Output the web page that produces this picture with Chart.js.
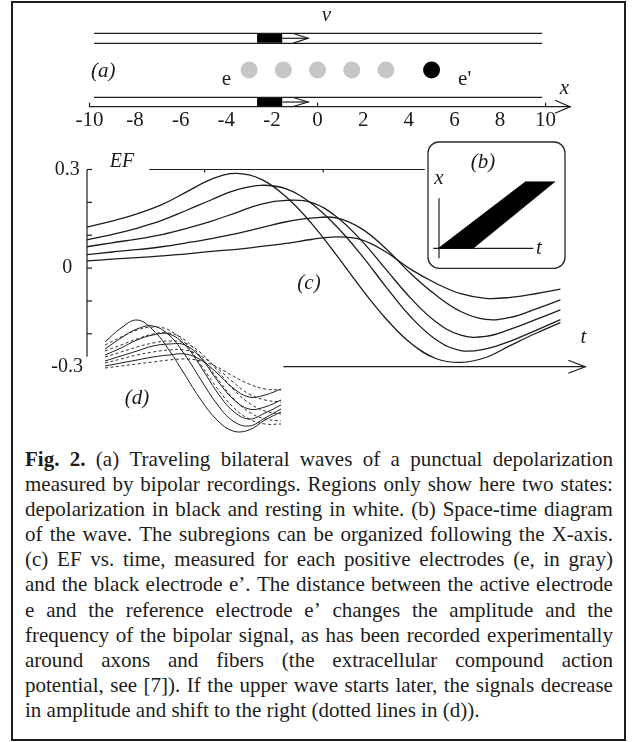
<!DOCTYPE html>
<html>
<head>
<meta charset="utf-8">
<title>Fig. 2</title>
<script src="https://cdn.jsdelivr.net/npm/chart.js@4.4.1/dist/chart.umd.min.js"></script>
<style>
  html, body { margin: 0; padding: 0; background: #fff; }
  body { width: 638px; height: 742px; position: relative; overflow: hidden;
         font-family: "Liberation Serif", "Times New Roman", serif; color: #1c1c1c; }
  #frame { position: absolute; left: 11px; top: 1px; width: 615px; height: 740px;
           border: 2px solid #1e1e1e; box-sizing: border-box; }
  canvas { position: absolute; }
  #panelA { left: 0; top: 0; }
  #panelC { left: 0; top: 140px; }
  #panelD { left: 95px; top: 305px; }
  #panelB { left: 420px; top: 135px; }
  #caption { position: absolute; left: 25px; top: 447px; width: 588px; font-size: 21px; line-height: 25.1px; }
  .row { display: flex; justify-content: space-between; white-space: pre; }
  .row.last { justify-content: flex-start; }
  .row.last > * { margin-right: 0.25em; }
</style>
</head>
<body>
<div id="frame"></div>
<canvas id="panelA" width="638" height="140"></canvas>
<canvas id="panelC" width="638" height="300"></canvas>
<canvas id="panelD" width="200" height="140"></canvas>
<canvas id="panelB" width="155" height="140"></canvas>
<div id="caption"></div>

<script>
const INK = '#1c1c1c';
const SERIF = '"Liberation Serif", "Times New Roman", serif';

// (a) fibre, depolarised block and electrodes, position axis
const posTicks = [-10, -8, -6, -4, -2, 0, 2, 4, 6, 8, 10];
const posMarks = [-10, 0, 10];
const fibreSpan = [-9.8, 9.85];
const blockSpan = [-2.65, -1.55];
const arrowSpan = [-1.55, -0.41];
const grayElectrodes = [-3, -1.5, 0, 1.5, 3];
const refElectrode = [5];

// (c) EF vs time, one curve per gray electrode
const tGrid = [0, 0.5, 1, 1.5, 2, 2.5, 3, 3.5, 4, 4.5, 5, 5.5, 6, 6.5, 7, 7.5, 8, 8.5, 9, 9.5];
const efCurve1 = [0.125, 0.143, 0.165, 0.193, 0.232, 0.271, 0.288, 0.270, 0.216, 0.137, 0.041, -0.061, -0.154, -0.229, -0.275, -0.287, -0.272, -0.235, -0.199, -0.166];
const efCurve2 = [0.086, 0.102, 0.121, 0.145, 0.176, 0.208, 0.238, 0.252, 0.241, 0.197, 0.128, 0.041, -0.057, -0.149, -0.217, -0.251, -0.246, -0.222, -0.190, -0.157];
const efCurve3 = [0.065, 0.077, 0.088, 0.102, 0.121, 0.143, 0.169, 0.195, 0.206, 0.200, 0.157, 0.085, -0.004, -0.092, -0.163, -0.204, -0.208, -0.186, -0.157, -0.127];
const efCurve4 = [0.041, 0.049, 0.056, 0.065, 0.077, 0.090, 0.105, 0.123, 0.141, 0.152, 0.153, 0.121, 0.059, -0.017, -0.082, -0.132, -0.156, -0.150, -0.125, -0.097];
const efCurve5 = [0.022, 0.027, 0.032, 0.037, 0.043, 0.051, 0.057, 0.066, 0.075, 0.087, 0.095, 0.087, 0.049, -0.004, -0.046, -0.078, -0.092, -0.089, -0.078, -0.064];
const efTicks = [-0.3, -0.2, -0.1, 0, 0.1, 0.2, 0.3];
const efLabels = ['-0.3', '', '', '0', '', '', '0.3'];
const efAxisLow = -0.27;
const frameTopSpan = [1.25, 6.78];
const frameTopTicks = [2.36, 4.74];
const tAxisSpan = [3.94, 10];

// (d) inset: solid = as in (c), dotted = upper wave starting later
const dGrid = [0, 1, 2, 3, 4, 5, 6, 7, 8, 9, 10, 11];
const dSolid1 = [0.17, 0.24, 0.28, 0.23, 0.13, 0.005, -0.12, -0.22, -0.275, -0.27, -0.22, -0.18];
const dSolid2 = [0.135, 0.19, 0.235, 0.25, 0.205, 0.105, -0.02, -0.14, -0.225, -0.25, -0.21, -0.165];
const dSolid3 = [0.105, 0.14, 0.18, 0.205, 0.21, 0.155, 0.045, -0.08, -0.175, -0.215, -0.185, -0.145];
const dSolid4 = [0.075, 0.10, 0.125, 0.15, 0.16, 0.155, 0.09, -0.02, -0.115, -0.165, -0.155, -0.12];
const dSolid5 = [0.05, 0.065, 0.08, 0.095, 0.105, 0.11, 0.08, 0.015, -0.06, -0.105, -0.095, -0.065];
const dDotted1 = [0.155, 0.195, 0.23, 0.245, 0.23, 0.165, 0.055, -0.06, -0.155, -0.215, -0.24, -0.24];
const dDotted2 = [0.125, 0.155, 0.185, 0.21, 0.215, 0.18, 0.095, -0.01, -0.11, -0.18, -0.215, -0.225];
const dDotted3 = [0.095, 0.12, 0.145, 0.165, 0.175, 0.165, 0.115, 0.03, -0.065, -0.135, -0.175, -0.19];
const dDotted4 = [0.065, 0.085, 0.105, 0.12, 0.13, 0.13, 0.10, 0.04, -0.03, -0.09, -0.12, -0.13];
const dDotted5 = [0.04, 0.05, 0.06, 0.07, 0.08, 0.085, 0.075, 0.045, 0, -0.04, -0.065, -0.07];

// (b) space-time diagram
const bandT = [-0.1, 3.43, 11.6, 8.6];
const bandX = [0, 0, 6.66, 6.66];
const bAxisT = [-0.57, 9.43];
const bAxisX = [-1, 5];

const captionLines = [
  'Fig. 2. (a) Traveling bilateral waves of a punctual depolarization',
  'measured by bipolar recordings. Regions only show here two states:',
  'depolarization in black and resting in white. (b) Space-time diagram',
  'of the wave. The subregions can be organized following the X-axis.',
  '(c) EF vs. time, measured for each positive electrodes (e, in gray)',
  'and the black electrode e\u2019. The distance between the active electrode',
  'e and the reference electrode e\u2019 changes the amplitude and the',
  'frequency of the bipolar signal, as has been recorded experimentally',
  'around axons and fibers (the extracellular compound action',
  'potential, see [7]). If the upper wave starts later, the signals decrease',
  'in amplitude and shift to the right (dotted lines in (d)).'
];

// vertical rows of panel (a), in its own 0..1 units
const ROW_A = { top: 1, inner: 0.864, dots: 0.5, lower: 0.127, axis: 0 };

const pts = (xs, ys) => xs.map((x, i) => ({x, y: ys[i]}));
const hline = (span, y) => span.map(x => ({x, y}));
const vline = (x, span) => span.map(y => ({x, y}));

function lineSet(data, extra) {
  return Object.assign({data, borderColor: INK, borderWidth: 1.2, pointRadius: 0,
                        tension: 0, fill: false, clip: false}, extra);
}

function chevron(ctx, px, py, len, half) {
  ctx.beginPath();
  ctx.moveTo(px - len, py - half);
  ctx.lineTo(px, py);
  ctx.lineTo(px - len, py + half);
  ctx.stroke();
}

// draws arrow heads, free labels and extra strokes through the chart scales
function sketch(texts, extra, before) {
  return {
    id: 'sketch',
    beforeDatasetsDraw(chart) {
      if (before) { chart.ctx.save(); before(chart, chart.ctx); chart.ctx.restore(); }
    },
    afterDatasetsDraw(chart) {
      const ctx = chart.ctx;
      const sx = chart.scales.x, sy = chart.scales.y;
      ctx.save();
      ctx.strokeStyle = INK;
      ctx.fillStyle = INK;
      ctx.lineWidth = 1.2;
      chart.data.datasets.forEach((ds, i) => {
        if (!ds.arrowHead) return;
        const meta = chart.getDatasetMeta(i);
        const tip = meta.data[meta.data.length - 1];
        chevron(ctx, tip.x, tip.y, ds.arrowHead[0], ds.arrowHead[1]);
      });
      if (extra) extra(chart, ctx);
      ctx.textAlign = 'center';
      ctx.textBaseline = 'middle';
      texts.forEach(t => {
        ctx.font = (t.italic ? 'italic ' : '') + (t.size || 21) + 'px ' + SERIF;
        ctx.fillText(t.text, sx.getPixelForValue(t.at[0]), sy.getPixelForValue(t.at[1]));
      });
      ctx.restore();
    }
  };
}

function baseOptions(padding, scales) {
  return {
    responsive: false,
    animation: false,
    devicePixelRatio: 1,
    events: [],
    layout: { padding },
    plugins: { legend: { display: false }, tooltip: { enabled: false } },
    scales
  };
}

// ---------- panel (a) ----------
const blockMidTop = (ROW_A.top + ROW_A.inner) / 2;
const blockMidLow = (ROW_A.lower + ROW_A.axis) / 2;
new Chart(document.getElementById('panelA'), {
  type: 'line',
  data: {
    datasets: [
      lineSet(hline(fibreSpan, ROW_A.top)),
      lineSet(hline(fibreSpan, ROW_A.inner)),
      lineSet(hline(fibreSpan, ROW_A.lower)),
      lineSet(hline(blockSpan, blockMidTop), { borderColor: '#000', borderWidth: 9 }),
      lineSet(hline(blockSpan, blockMidLow), { borderColor: '#000', borderWidth: 8.5 }),
      lineSet(hline(arrowSpan, blockMidTop), { arrowHead: [15, 4.8] }),
      lineSet(hline(arrowSpan, blockMidLow), { arrowHead: [15, 4.5] }),
      { data: grayElectrodes.map(x => ({x, y: ROW_A.dots})), showLine: false, pointRadius: 8.5,
        pointBackgroundColor: '#c6c6c6', pointBorderWidth: 0, clip: false },
      { data: refElectrode.map(x => ({x, y: ROW_A.dots})), showLine: false, pointRadius: 8.5,
        pointBackgroundColor: '#000', pointBorderWidth: 0, clip: false }
    ]
  },
  options: baseOptions({ left: 89.5, right: 68, top: 33.3, bottom: 8.3 }, {
    x: {
      type: 'linear', min: -10, max: 11.07,
      afterBuildTicks: s => { s.ticks = posTicks.map(value => ({value})); },
      afterFit: s => { s.height = 25; },
      grid: { display: false, drawTicks: false },
      border: { display: true, color: INK, width: 1.2 },
      ticks: { autoSkip: false, maxRotation: 0, padding: 1, color: INK, font: { family: SERIF, size: 21 } }
    },
    y: { type: 'linear', display: false, min: 0, max: 1 }
  }),
  plugins: [sketch([
    { text: '(a)', at: [-9.4, 0.486], italic: true },
    { text: 'e', at: [-4.0, 0.369] },
    { text: "e'", at: [6.45, 0.369] },
    { text: 'v', at: [0.39, 1.241], italic: true },
    { text: 'x', at: [10.83, 0.247], italic: true }
  ], (chart, ctx) => {
    const sx = chart.scales.x, sy = chart.scales.y;
    const yb = sy.getPixelForValue(ROW_A.axis);
    posMarks.forEach(v => {
      const px = sx.getPixelForValue(v);
      ctx.beginPath(); ctx.moveTo(px, yb); ctx.lineTo(px, yb - 4); ctx.stroke();
    });
    chevron(ctx, sx.getPixelForValue(sx.max), yb, 15, 6.5);
  })]
});

// ---------- panel (c) ----------
const curveStyle = { borderWidth: 1.3, tension: 0.4 };
new Chart(document.getElementById('panelC'), {
  type: 'line',
  data: {
    datasets: [
      lineSet(pts(tGrid, efCurve1), curveStyle),
      lineSet(pts(tGrid, efCurve2), curveStyle),
      lineSet(pts(tGrid, efCurve3), curveStyle),
      lineSet(pts(tGrid, efCurve4), curveStyle),
      lineSet(pts(tGrid, efCurve5), curveStyle),
      lineSet(hline(frameTopSpan, 0.3)),
      lineSet(hline(tAxisSpan, -0.3), { arrowHead: [17, 6.5] })
    ]
  },
  options: baseOptions({ left: 40, right: 52.7, top: 29.5, bottom: 73.3 }, {
    x: { type: 'linear', display: false, min: 0, max: 10 },
    y: {
      type: 'linear', min: -0.3, max: 0.3,
      afterBuildTicks: s => { s.ticks = efTicks.map(value => ({value})); },
      afterFit: s => { s.width = 47; },
      grid: { display: false, drawTicks: false },
      border: { display: false },
      ticks: { autoSkip: false, crossAlign: 'center', padding: 4, color: INK,
               font: { family: SERIF, size: 20 }, callback: (v, i) => efLabels[i] }
    }
  }),
  plugins: [sketch([
    { text: 'EF', at: [0.70, 0.323], italic: true, size: 20 },
    { text: 't', at: [9.96, -0.211], italic: true },
    { text: '(c)', at: [4.455, -0.048], italic: true }
  ], (chart, ctx) => {
    const sx = chart.scales.x, sy = chart.scales.y;
    const x0 = sx.getPixelForValue(0);
    ctx.beginPath();
    ctx.moveTo(x0, sy.getPixelForValue(0.3));
    ctx.lineTo(x0, sy.getPixelForValue(efAxisLow));
    ctx.stroke();
    efTicks.filter(v => v > efAxisLow).forEach(v => {
      const py = sy.getPixelForValue(v);
      ctx.beginPath(); ctx.moveTo(x0, py); ctx.lineTo(x0 + 5, py); ctx.stroke();
    });
    const yTop = sy.getPixelForValue(0.3);
    frameTopTicks.forEach(t => {
      const px = sx.getPixelForValue(t);
      ctx.beginPath(); ctx.moveTo(px, yTop); ctx.lineTo(px, yTop + 3); ctx.stroke();
    });
  })]
});

// ---------- panel (d) ----------
const solidD = { borderWidth: 1, tension: 0.4 };
const dotD = { borderWidth: 0.9, tension: 0.4, borderDash: [3, 2.5] };
new Chart(document.getElementById('panelD'), {
  type: 'line',
  data: {
    datasets: [
      lineSet(pts(dGrid, dDotted1), dotD),
      lineSet(pts(dGrid, dDotted2), dotD),
      lineSet(pts(dGrid, dDotted3), dotD),
      lineSet(pts(dGrid, dDotted4), dotD),
      lineSet(pts(dGrid, dDotted5), dotD),
      lineSet(pts(dGrid, dSolid1), solidD),
      lineSet(pts(dGrid, dSolid2), solidD),
      lineSet(pts(dGrid, dSolid3), solidD),
      lineSet(pts(dGrid, dSolid4), solidD),
      lineSet(pts(dGrid, dSolid5), solidD)
    ]
  },
  options: baseOptions({ left: 10, right: 14, top: 11, bottom: 9 }, {
    x: { type: 'linear', display: false, min: 0, max: 11 },
    y: { type: 'linear', display: false, min: -0.3, max: 0.3 }
  }),
  plugins: [sketch([{ text: '(d)', at: [2.0, -0.11], italic: true }])]
});

// ---------- panel (b) ----------
new Chart(document.getElementById('panelB'), {
  type: 'line',
  data: {
    datasets: [
      lineSet(pts(bandT, bandX), { fill: 'shape', backgroundColor: '#000', borderColor: '#000', borderWidth: 0.5 }),
      lineSet(vline(0, bAxisX)),
      lineSet(hline(bAxisT, 0))
    ]
  },
  options: baseOptions({ left: 9, right: 16, top: 43.3, bottom: 16.7 }, {
    x: { type: 'linear', display: false, min: -1, max: 12 },
    y: { type: 'linear', display: false, min: -1, max: 7 }
  }),
  plugins: [sketch([
    { text: '(b)', at: [4.4, 8.63], italic: true },
    { text: 'x', at: [0, 6.97], italic: true },
    { text: 't', at: [10, 0.03], italic: true }
  ], null, (chart, ctx) => {
    ctx.strokeStyle = '#2a2a2a';
    ctx.lineWidth = 1.3;
    ctx.beginPath();
    ctx.roundRect(8, 7, 137, 126.3, 11);
    ctx.stroke();
  })]
});

// ---------- caption ----------
const cap = document.getElementById('caption');
captionLines.forEach((line, i) => {
  const row = document.createElement('div');
  row.className = i === captionLines.length - 1 ? 'row last' : 'row';
  line.split(' ').forEach((w, k) => {
    const s = document.createElement(i === 0 && k < 2 ? 'b' : 'span');
    s.textContent = w;
    row.appendChild(s);
  });
  cap.appendChild(row);
});
</script>
</body>
</html>
